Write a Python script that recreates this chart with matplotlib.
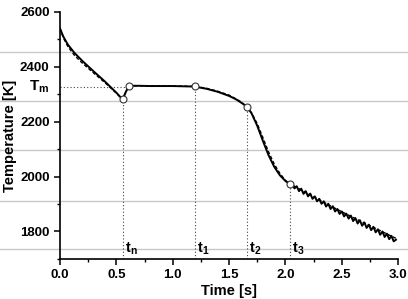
import matplotlib
matplotlib.use('Agg')
import matplotlib.pyplot as plt
from matplotlib.lines import Line2D
from matplotlib.ticker import MultipleLocator

plt.rcParams['font.family'] = ['Liberation Sans', 'DejaVu Sans']
plt.rcParams['font.weight'] = 'bold'
plt.rcParams['mathtext.fontset'] = 'custom'
plt.rcParams['mathtext.bf'] = 'Liberation Sans:bold'
plt.rcParams['mathtext.rm'] = 'Liberation Sans:bold'
plt.rcParams['mathtext.default'] = 'bf'

# measured temperature curve
t_meas = [0.0, 0.03, 0.07, 0.13, 0.2, 0.3, 0.4, 0.5, 0.555, 0.58, 0.61, 0.7, 0.8, 0.9, 1.0, 1.1,
          1.195, 1.3, 1.4, 1.5, 1.56, 1.62, 1.66, 1.7, 1.75, 1.8, 1.85, 1.9, 1.95, 2.0, 2.04,
          2.06, 2.08, 2.10, 2.12, 2.14, 2.16, 2.18, 2.20, 2.22, 2.24, 2.26, 2.28, 2.30, 2.32,
          2.34, 2.36, 2.38, 2.40, 2.42, 2.44, 2.46, 2.48, 2.50, 2.52, 2.54, 2.56, 2.58, 2.60,
          2.62, 2.64, 2.66, 2.68, 2.70, 2.72, 2.74, 2.76, 2.78, 2.80, 2.82, 2.84, 2.86, 2.88,
          2.90, 2.92, 2.94, 2.96, 2.98]
T_meas = [2540, 2510, 2481, 2450, 2421, 2383, 2346, 2306, 2281, 2305, 2331, 2331, 2330, 2330, 2330, 2329,
          2328, 2320, 2309, 2294, 2282, 2266, 2254, 2230, 2185, 2130, 2078, 2036, 2005, 1984, 1972,
          1974, 1957, 1965, 1947, 1956, 1937, 1947, 1928, 1938, 1919, 1928, 1910, 1919, 1901,
          1910, 1891, 1901, 1882, 1892, 1873, 1882, 1864, 1873, 1855, 1865, 1847, 1858, 1838,
          1849, 1829, 1841, 1821, 1833, 1813, 1825, 1805, 1817, 1797, 1808, 1788, 1800, 1780,
          1792, 1772, 1784, 1764, 1770]

# model curve (dashed)
t_model = [0.0, 0.03, 0.07, 0.13, 0.2, 0.3, 0.4, 0.5, 0.555, 0.61, 0.8, 1.0, 1.195, 1.3, 1.4, 1.5,
           1.6, 1.66, 1.7, 1.75, 1.8, 1.85, 1.9, 1.95, 2.0, 2.04, 2.2, 2.4, 2.6, 2.8, 2.98]
T_model = [2540, 2506, 2474, 2441, 2413, 2377, 2342, 2304, 2281, 2331, 2331, 2330, 2329, 2322, 2311, 2297,
           2274, 2254, 2232, 2192, 2142, 2090, 2046, 2012, 1986, 1974, 1938, 1893, 1851, 1811, 1775]

# characteristic points
t_pts = [0.555, 0.61, 1.195, 1.66, 2.04]
T_pts = [2281, 2331, 2330, 2254, 1972]
Tm = 2328
t_marks = [0.555, 1.195, 1.66, 2.04]
T_marks = [2281, 2330, 2254, 1972]
mark_labels = [r'$t_n$', r'$t_1$', r'$t_2$', r'$t_3$']

fig = plt.figure(figsize=(4.08, 2.99), dpi=100)
for yf in [0.826, 0.662, 0.497, 0.329, 0.166]:
    fig.add_artist(Line2D([0, 1], [yf, yf], transform=fig.transFigure,
                          color='#c8c8c8', lw=1.0, zorder=-5))

ax = fig.add_axes([0.147, 0.134, 0.829, 0.826])
ax.patch.set_visible(False)

ax.plot(t_model, T_model, color='black', lw=1.0, ls=(0, (2.5, 1.5)), zorder=3)
ax.plot(t_meas, T_meas, color='black', lw=1.4, zorder=4)

ax.plot([0, 0.61], [Tm, Tm], color='#444444', lw=0.8, ls=(0, (1, 2)), zorder=2)
for tx, Ty, lab in zip(t_marks, T_marks, mark_labels):
    ax.plot([tx, tx], [1700, Ty], color='#444444', lw=0.8, ls=(0, (1, 2)), zorder=2)
    ax.text(tx + 0.02, 1706, lab, fontsize=10.5, ha='left', va='bottom')

ax.plot(t_pts, T_pts, 'o', ms=5, mfc='white', mec='#333333', mew=0.8, zorder=5)

ax.text(-0.09, Tm, r'$T_m$', fontsize=11, ha='right', va='center', clip_on=False)

ax.set_xlim(0, 3.0)
ax.set_ylim(1700, 2600)
ax.xaxis.set_minor_locator(MultipleLocator(0.25))
ax.yaxis.set_minor_locator(MultipleLocator(100))
ax.set_xticks([0, 0.5, 1.0, 1.5, 2.0, 2.5, 3.0])
ax.set_xticklabels(['0.0', '0.5', '1.0', '1.5', '2.0', '2.5', '3.0'])
ax.set_yticks([1800, 2000, 2200, 2400, 2600])

for s in ['top', 'right']:
    ax.spines[s].set_visible(False)
for s in ['left', 'bottom']:
    ax.spines[s].set_linewidth(1.2)
ax.tick_params(which='major', length=4, width=1.1, labelsize=9.5, direction='out')
ax.tick_params(which='minor', length=2.5, width=1.0, direction='out')
for lab in ax.get_xticklabels() + ax.get_yticklabels():
    lab.set_fontweight('bold')

ax.set_xlabel('Time [s]', fontsize=10.5, fontweight='bold', labelpad=2)
ax.set_ylabel('Temperature [K]', fontsize=10.5, fontweight='bold', labelpad=2)

fig.savefig('out.png', dpi=100)
